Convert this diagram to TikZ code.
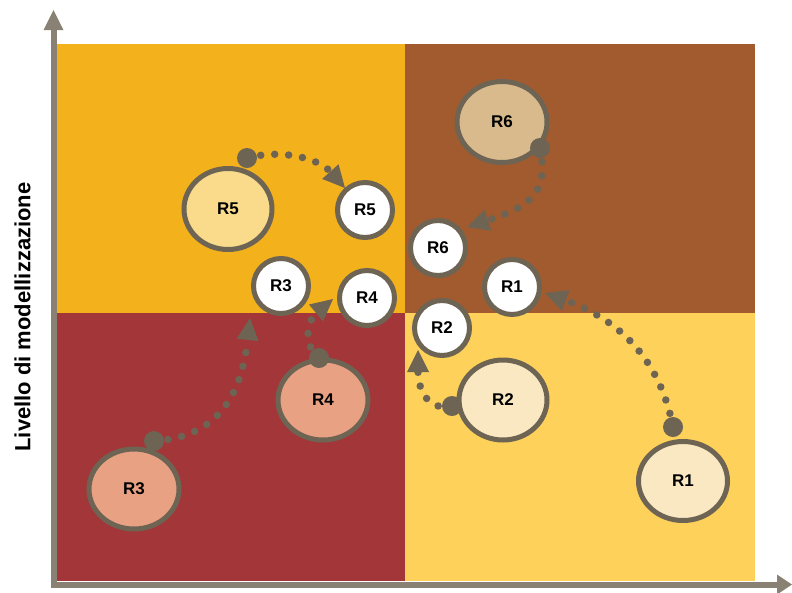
\documentclass[tikz,border=0pt]{standalone}
\usepackage{fontspec}
\newfontfamily\labfont{Liberation Sans}
\usetikzlibrary{arrows.meta,shapes.geometric}
\pgfdeclarelayer{front}
\pgfsetlayers{main,front}
\definecolor{qTL}{HTML}{F3B11C}
\definecolor{qTR}{HTML}{A25B2E}
\definecolor{qBL}{HTML}{A33638}
\definecolor{qBR}{HTML}{FDD15A}
\definecolor{ring}{HTML}{6E6454}
\definecolor{axisc}{HTML}{898173}
\definecolor{fRfive}{HTML}{F9DB8B}
\definecolor{fRsix}{HTML}{D8BA8C}
\definecolor{fRlight}{HTML}{FAE8C3}
\definecolor{fRpink}{HTML}{E9A184}
\begin{document}
\begin{tikzpicture}[x=1pt,y=-1pt,
  big/.style={ellipse, draw=ring, line width=5pt, inner sep=0pt,
    font=\labfont\bfseries\fontsize{17}{17}\selectfont},
  small/.style={circle, draw=ring, fill=white, line width=5pt, inner sep=0pt,
    minimum size=55pt, font=\labfont\bfseries\fontsize{17}{17}\selectfont},
  knob/.style={circle, fill=ring, inner sep=0pt, minimum size=20pt},
  trail/.style={draw=ring, line width=7.5pt, line cap=round, dash pattern=on 0pt off 14pt,
    -{Triangle[length=22pt,width=22pt,line width=0pt]}},
  axisline/.style={draw=axisc, line width=6pt, line cap=rect}]
\useasboundingbox (0,0) rectangle (792,592);
% quadrants
\fill[qTL] (57,44) rectangle (405,313);
\fill[qTR] (405,44) rectangle (755,313);
\fill[qBL] (57,313) rectangle (405,581);
\fill[qBR] (405,313) rectangle (755,581);
% axes
\coordinate (O) at (53.5,584.5);
\coordinate (ytip) at (53.5,10);
\coordinate (xtip) at (792,584.5);
\draw[axisline, -{Triangle[length=20pt,width=20pt,line width=0pt]}] (O) -- (ytip);
\draw[axisline, -{Triangle[length=15pt,width=20pt,line width=0pt]}] (O) -- (xtip);
\node[rotate=90, font=\labfont\bfseries\fontsize{22}{22}\selectfont] (ylab) at (22.5,317) {Livello di modellizzazione};
% large ellipses
\node[big, fill=fRfive, minimum width=88pt, minimum height=81pt] (L5) at (228,209) {R5};
\node[big, fill=fRsix, minimum width=90pt, minimum height=81pt] (L6) at (502,122) {R6};
\node[big, fill=fRlight, minimum width=88pt, minimum height=80pt] (L2) at (503,400) {R2};
\node[big, fill=fRlight, minimum width=89pt, minimum height=79pt] (L1) at (683,481) {R1};
\node[big, fill=fRpink, minimum width=90pt, minimum height=80pt] (L3) at (134,489) {R3};
\node[big, fill=fRpink, minimum width=90pt, minimum height=80pt] (L4) at (323,400) {R4};
% small white circles
\node[small] (S5) at (365,210) {R5};
\node[small] (S6) at (438,248) {R6};
\node[small] (S1) at (512,287) {R1};
\node[small] (S2) at (442,328) {R2};
\node[small] (S3) at (281,286) {R3};
\node[small] (S4) at (367,298) {R4};
% arrow tip coordinates
\coordinate (t5) at (345,188);
\coordinate (t6) at (467,227);
\coordinate (t2) at (418,350);
\coordinate (t1) at (545,293);
\coordinate (t3) at (250,318);
\coordinate (t4) at (333,299);
% knobs (front layer)
\begin{pgfonlayer}{front}
\node[knob] (d5) at (247,158) {};
\node[knob] (d6) at (540,148) {};
\node[knob] (d2) at (452,406) {};
\node[knob] (d1) at (673,427) {};
\node[knob] (d3) at (154,441) {};
\node[knob] (d4) at (319,358) {};
\end{pgfonlayer}
% dotted trails
\draw[trail] (d5.center) .. controls (285,148) and (320,160) .. (t5);
\draw[trail] (d6.center) .. controls (548,190) and (535,205) .. (t6);
\draw[trail] (d2.center) .. controls (425,412) and (418,385) .. (t2);
\draw[trail] (d1.center) .. controls (660,360) and (620,320) .. (t1);
\draw[trail] (d3.center) .. controls (205,438) and (240,410) .. (t3);
\draw[trail] (d4.center) .. controls (300,342) and (310,318) .. (t4);
\end{tikzpicture}
\end{document}
